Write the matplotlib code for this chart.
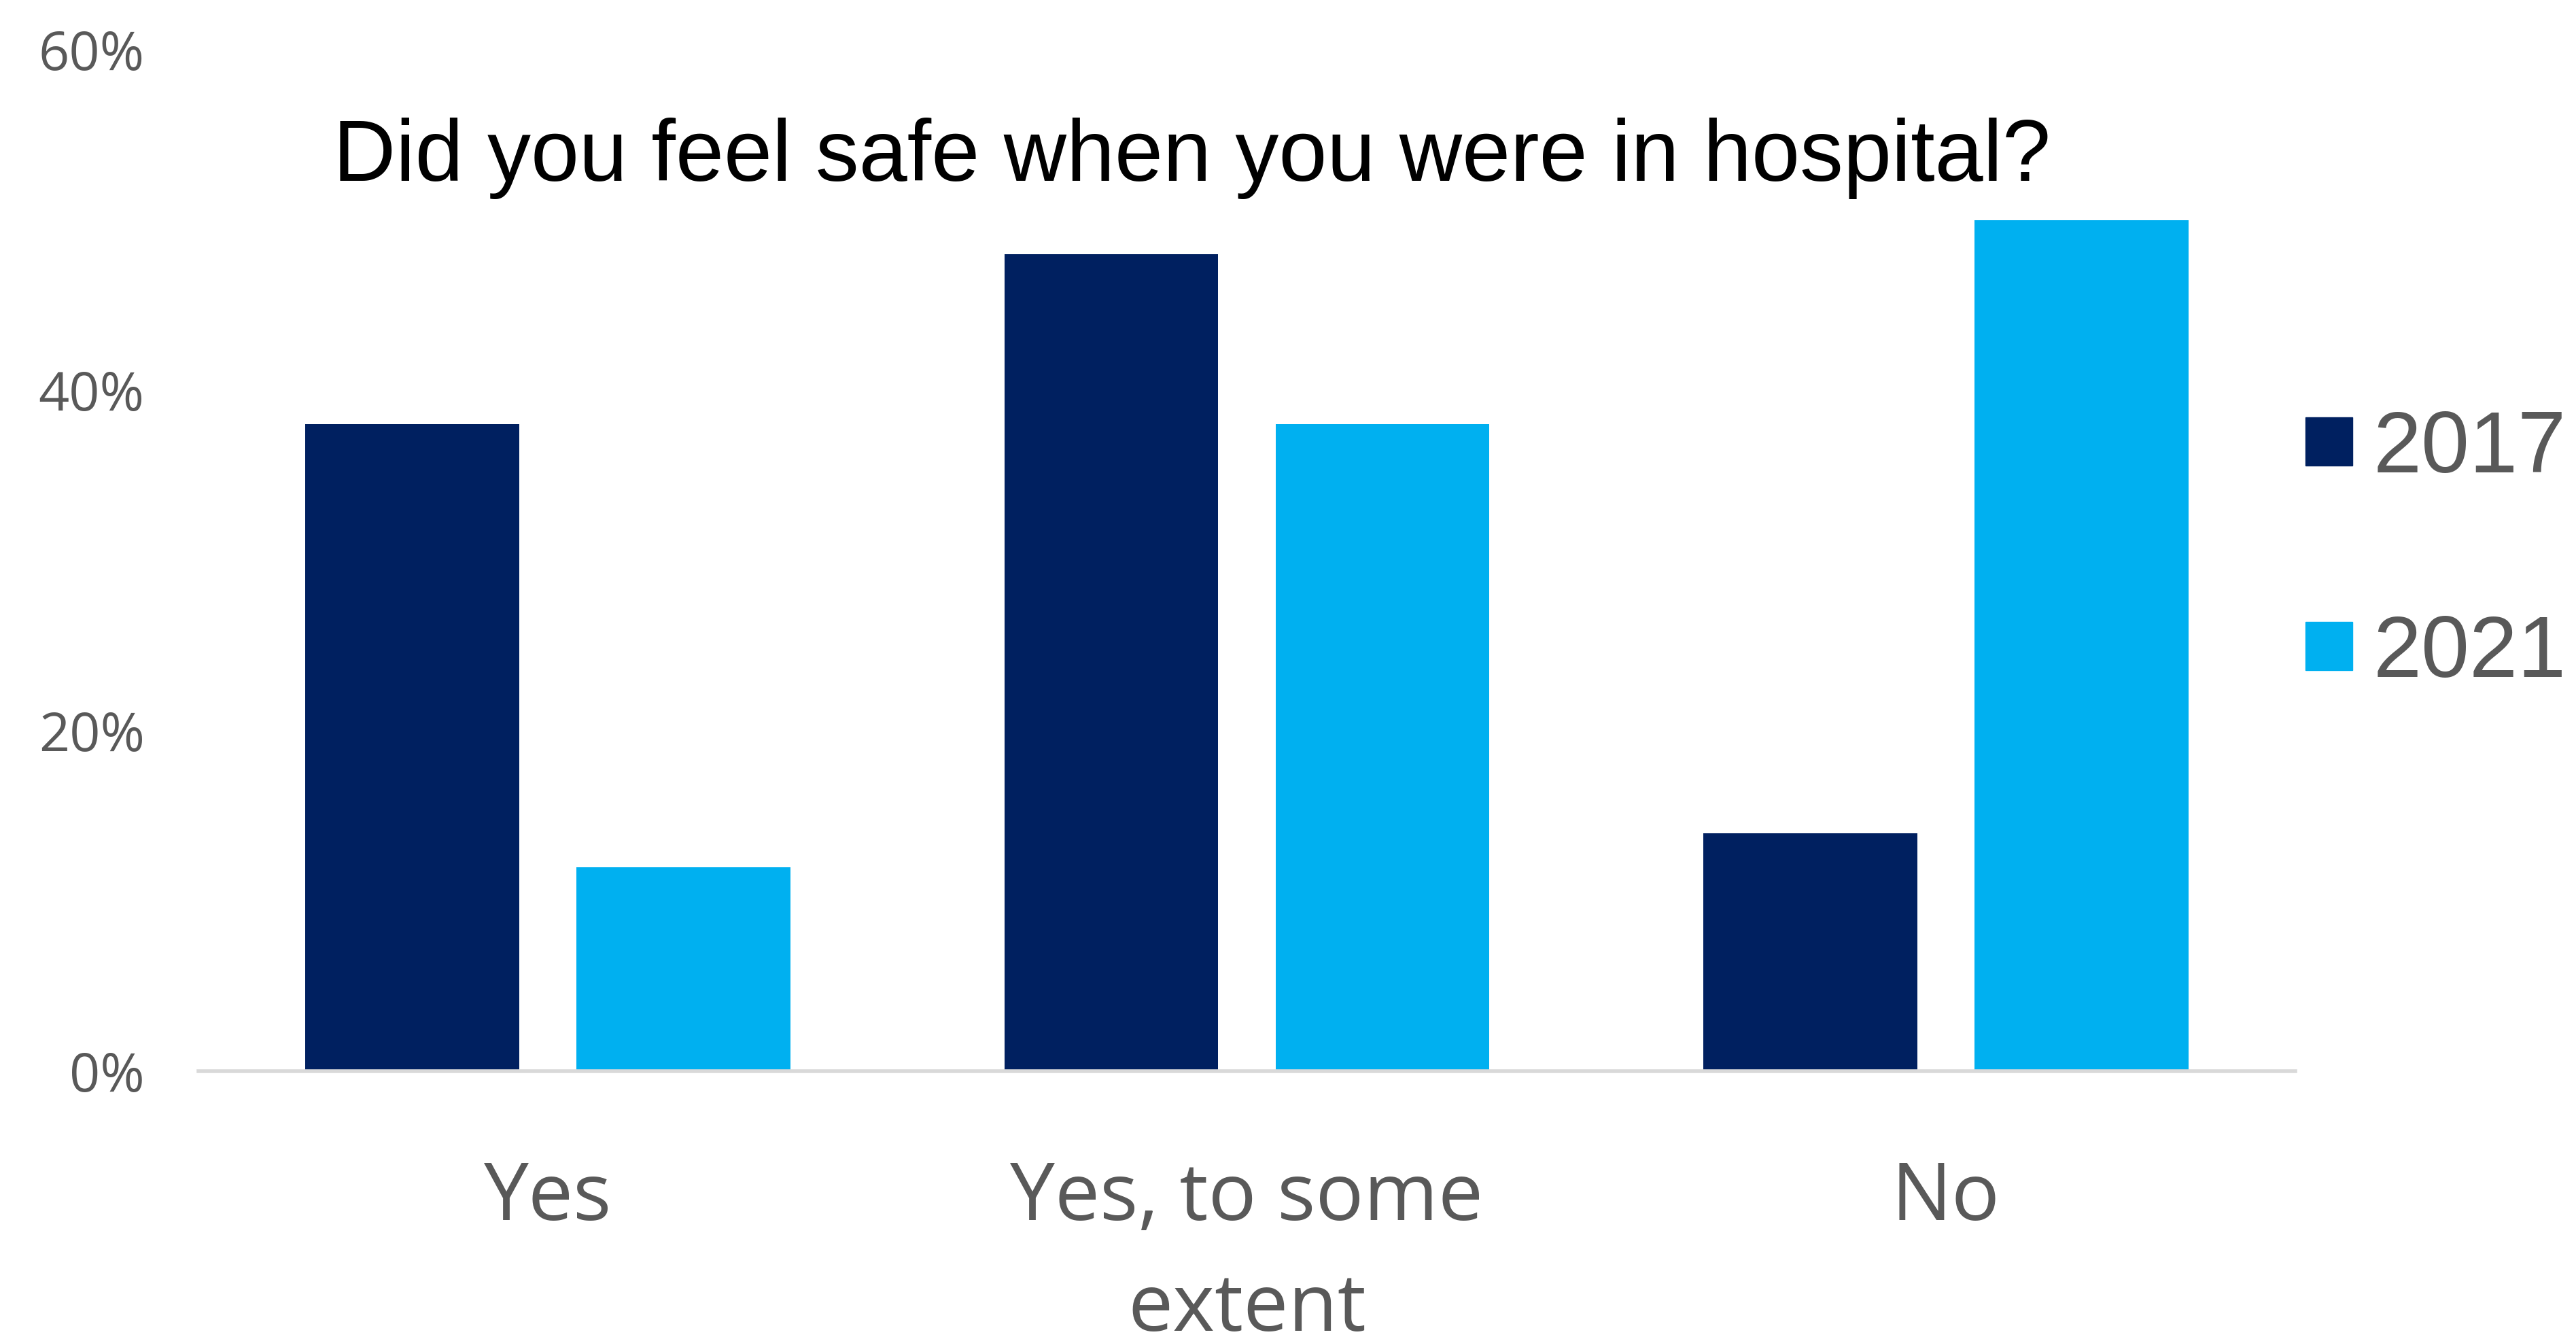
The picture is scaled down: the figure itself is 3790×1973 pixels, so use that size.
import matplotlib.pyplot as plt
import numpy as np
from matplotlib.patches import Patch
from matplotlib.ticker import PercentFormatter

# survey answers, share of respondents (%)
answers = ["Yes", "Yes, to some\nextent", "No"]
years = ["2017", "2021"]
share_2017 = [38, 48, 14]
share_2021 = [12, 38, 50]

dark_blue = "#002060"
light_blue = "#00B0F0"
grey_text = "#595959"

fig = plt.figure(figsize=(37.9, 19.73), dpi=100)
ax = fig.add_axes([0.077, 0.201, 0.814, 0.762])

x = np.arange(len(answers))
width = 0.306
offset = 0.194

ax.bar(x - offset, share_2017, width, color=dark_blue)
ax.bar(x + offset, share_2021, width, color=light_blue)

ax.set_xlim(-0.5, 2.5)
ax.set_ylim(0, 60)
ax.set_yticks([0, 20, 40, 60])
ax.yaxis.set_major_formatter(PercentFormatter(decimals=0))

for side in ["top", "left", "right"]:
    ax.spines[side].set_visible(False)
ax.spines["bottom"].set_color("#D9D9D9")
ax.spines["bottom"].set_linewidth(4)

ax.set_xticks(x)
ax.set_xticklabels(answers, fontsize=85, family="Open Sans", color=grey_text,
                   linespacing=1.52)
ax.tick_params(axis="x", length=0, pad=93)
ax.tick_params(axis="y", length=0, pad=57, labelsize=57, labelcolor=grey_text)
for lbl in ax.get_yticklabels():
    lbl.set_family("Open Sans")

fig.text(0.4627, 0.865, "Did you feel safe when you were in hospital?",
         fontsize=92, family="Liberation Sans", color="black",
         ha="center", va="baseline")

handles = [Patch(color=dark_blue), Patch(color=light_blue)]
fig.legend(handles, years, loc="upper left",
           bbox_to_anchor=(0.895, 0.695), frameon=False,
           prop={"family": "Liberation Sans", "size": 92},
           labelcolor=grey_text, handlelength=0.54, handleheight=0.48,
           handletextpad=0.24, labelspacing=1.42, borderpad=0, borderaxespad=0)

plt.savefig("out.png", dpi=100)
